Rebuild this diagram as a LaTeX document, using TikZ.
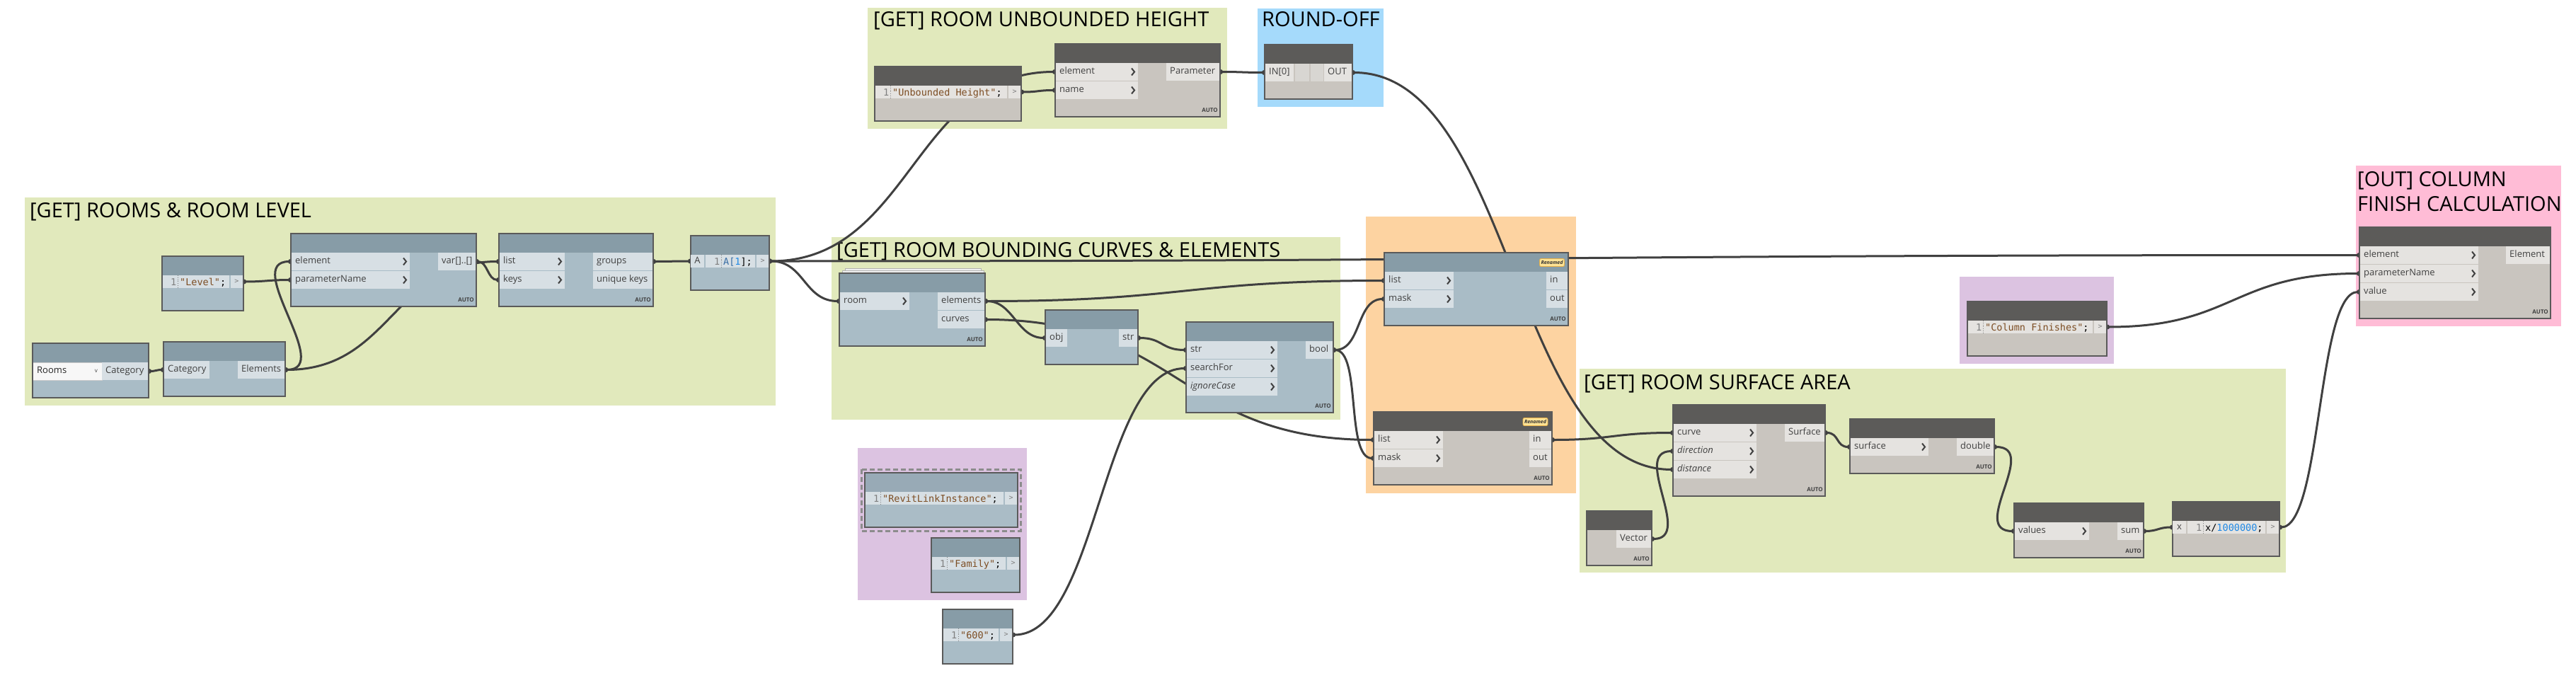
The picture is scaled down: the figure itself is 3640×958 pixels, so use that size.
\documentclass[tikz,border=0pt]{standalone}
\usepackage{fontspec}
\setmainfont{Open Sans}
\setmonofont{DejaVu Sans Mono}
\usetikzlibrary{arrows.meta}
\pgfdeclarelayer{grp}
\pgfdeclarelayer{wire}
\pgfsetlayers{grp,wire,main}
\definecolor{Bhead}{HTML}{879CA7}
\definecolor{Bbody}{HTML}{A9BCC6}
\definecolor{Blab}{HTML}{D7DFE4}
\definecolor{Lhead}{HTML}{98AAB6}
\definecolor{Lbody}{HTML}{AABCC6}
\definecolor{Llab}{HTML}{D7DFE4}
\definecolor{Dhead}{HTML}{5C5B59}
\definecolor{Dbody}{HTML}{C9C5BF}
\definecolor{Dlab}{HTML}{E5E3E0}
\definecolor{nodeline}{HTML}{5A5A5A}
\definecolor{wirec}{HTML}{404040}
\definecolor{ggreen}{HTML}{E1E9BC}
\definecolor{gblue}{HTML}{A5DAFB}
\definecolor{gorange}{HTML}{FDD3A1}
\definecolor{gpurple}{HTML}{DCC3E1}
\definecolor{gpink}{HTML}{FFBCD6}
\definecolor{strc}{HTML}{7D4E24}
\definecolor{numc}{HTML}{1E88E5}
\definecolor{varc}{HTML}{3A6EA5}
\definecolor{codegrey}{HTML}{7F7F7F}
\definecolor{labtext}{HTML}{404040}
\definecolor{badgef}{HTML}{FFE395}
\definecolor{badged}{HTML}{E5B04A}
\definecolor{sqc}{HTML}{D8D6D2}
\tikzset{
 nodebox/.style={anchor=north west, inner sep=0pt, outer sep=0pt},
 nodeframe/.style={draw=nodeline, line width=1.5pt},
 portbox/.style={inner sep=0pt, outer sep=0pt, minimum height=25pt},
 portl/.style={inner xsep=6pt, inner ysep=0pt, text=labtext, font=\fontsize{13}{13}\selectfont, text height=9pt, text depth=2.5pt, anchor=west},
 chev/.style={draw=labtext, line width=2pt},
 codet/.style={font=\ttfamily\fontsize{13.5}{14}\selectfont, inner sep=0pt, anchor=base west},
 autot/.style={font=\bfseries\fontsize{8}{8}\selectfont, text=labtext, inner sep=0pt, anchor=south east},
 grptitle/.style={font=\fontsize{29}{35}\selectfont, inner sep=0pt, anchor=base west},
 grpbox/.style={anchor=north west, inner sep=0pt, outer sep=0pt},
 wirestyle/.style={draw=wirec, line width=3pt, shorten <=-3pt, shorten >=-3pt, {Circle[length=7pt]}-{Circle[length=7pt]}},
 badge/.style={fill=badgef, draw=badged, line width=0.8pt, rounded corners=2pt, inner xsep=2pt, inner ysep=1pt, minimum width=34pt, minimum height=11pt, font=\bfseries\itshape\fontsize{7}{7}\selectfont, text=black!80}
}
\newcommand{\DNbox}[6]{%
 \node[nodebox, minimum width=#4pt, minimum height=#5pt, fill=#6body] (#1) at (#2,#3) {};%
 \fill[#6head] (#1.north west) rectangle ++(#4,27);}
\newcommand{\DNend}[1]{\draw[nodeframe] (#1.north west) rectangle (#1.south east);}
\newcommand{\DNauto}[1]{\node[autot] at ([xshift=-3pt,yshift=6pt]#1.south east) {AUTO};}
\newcommand{\InP}[6]{%
 \node[portbox, anchor=north west, minimum width=#4pt, fill=#6lab] (#1) at (#2,#3) {};%
 \node[portl] at (#1.west) {#5};%
 \draw[chev] ([xshift=-9pt,yshift=5pt]#1.east) -- ([xshift=-5pt]#1.east) -- ([xshift=-9pt,yshift=-5pt]#1.east);}
\newcommand{\InQ}[6]{%
 \node[portbox, anchor=north west, minimum width=#4pt, fill=#6lab] (#1) at (#2,#3) {};%
 \node[portl] at (#1.west) {#5};}
\newcommand{\OutP}[6]{%
 \node[portbox, anchor=north east, minimum width=#4pt, fill=#6lab] (#1) at (#2,#3) {};%
 \node[portl, inner xsep=5pt] at (#1.west) {#5};}
\newcommand{\CodeBlk}[7]{%
 \DNbox{#1}{#2}{#3}{#4}{77}{#5}%
 \fill[#5lab] ({#2+#7},{#3+27}) rectangle ({#2+#4-19},{#3+45});%
 \node[portbox, anchor=north east, minimum width=19pt, minimum height=18pt, fill=#5lab] (#1o) at ({#2+#4},{#3+27}) {};%
 \draw[#5body, line width=1.5pt] (#1o.north west) -- (#1o.south west);%
 \node[codet, anchor=center, text=codegrey, font=\ttfamily\fontsize{10}{10}\selectfont] at (#1o.center) {>};%
 \node[codet, text=codegrey] at ({#2+#7+12},{#3+41}) {1};%
 \draw[codegrey, dotted, line width=0.8pt] ({#2+#7+22},{#3+27}) -- ({#2+#7+22},{#3+45});%
 \node[codet] at ({#2+#7+25},{#3+41}) {#6};%
 \DNend{#1}}
\begin{document}
\begin{tikzpicture}[x=1pt,y=-1pt]
\useasboundingbox (0,0) rectangle (3640,958);

% ---------- groups ----------
\begin{pgfonlayer}{grp}
\fill[white] (0,0) rectangle (3640,958);
\node[grpbox, fill=ggreen, minimum width=1061pt, minimum height=294pt] (g1) at (35,279) {};
\node[grptitle] (g1t) at (42,307) {[GET] ROOMS \& ROOM LEVEL};
\node[grpbox, fill=ggreen, minimum width=508pt, minimum height=171pt] (g2) at (1226,11) {};
\node[grptitle] (g2t) at (1234,38) {[GET] ROOM UNBOUNDED HEIGHT};
\node[grpbox, fill=gblue, minimum width=178pt, minimum height=139pt] (g3) at (1777,12) {};
\node[grptitle] (g3t) at (1783,38) {ROUND-OFF};
\node[grpbox, fill=ggreen, minimum width=719pt, minimum height=258pt] (g4) at (1175,335) {};
\node[grptitle] (g4t) at (1182,363) {[GET] ROOM BOUNDING CURVES \& ELEMENTS};
\node[grpbox, fill=gorange, minimum width=297pt, minimum height=391pt] (g5) at (1930,306) {};
\node[grpbox, fill=ggreen, minimum width=998pt, minimum height=288pt] (g6) at (2232,521) {};
\node[grptitle] (g6t) at (2238,550) {[GET] ROOM SURFACE AREA};
\node[grpbox, fill=gpurple, minimum width=218pt, minimum height=123pt] (g7) at (2769,391) {};
\node[grpbox, fill=gpink, minimum width=290pt, minimum height=227pt] (g8) at (3329,234) {};
\node[grptitle] (g8t) at (3331,263) {[OUT] COLUMN};
\node[grptitle] (g8u) at (3331,298) {FINISH CALCULATION};
\node[grpbox, fill=gpurple, minimum width=239pt, minimum height=215pt] (g9) at (1212,633) {};
\end{pgfonlayer}

% ---------- nodes: rooms & level ----------
\CodeBlk{lvl}{229}{362}{115}{B}{\textcolor{strc}{"Level"};}{0}

\DNbox{gpv}{411}{330}{262}{103}{B}
\InP{gpvE}{411}{357}{168}{element}{B}
\InP{gpvP}{411}{383}{168}{parameterName}{B}
\OutP{gpvO}{673}{357}{54}{var[]..[]}{B}
\DNauto{gpv}\DNend{gpv}

\DNbox{gbk}{705}{330}{218}{103}{B}
\InP{gbkL}{705}{357}{93}{list}{B}
\InP{gbkK}{705}{383}{93}{keys}{B}
\OutP{gbkG}{923}{357}{85}{groups}{B}
\OutP{gbkU}{923}{383}{85}{unique keys}{B}
\DNauto{gbk}\DNend{gbk}

\CodeBlk{aone}{976}{333}{111}{B}{\textcolor{varc}{A[}\textcolor{numc}{1}];}{21}
\node[portbox, anchor=north west, minimum width=19pt, minimum height=18pt, fill=Blab] (aoneI) at (976,360) {};
\node[portl, anchor=center, inner xsep=0pt] at (aoneI.center) {A};

\DNbox{rooms}{46}{485}{164}{77}{B}
\node[portbox, anchor=north west, minimum width=98pt, fill=black!3, draw=black!20, line width=0.8pt] (roomsDD) at (46,512) {};
\node[portl, text=black!85] at (roomsDD.west) {Rooms};
\node[font=\fontsize{8}{8}\selectfont, text=labtext, inner sep=0pt] at ([xshift=-8pt]roomsDD.east) {v};
\OutP{roomsC}{210}{512}{66}{Category}{B}
\DNend{rooms}

\DNbox{allel}{231}{483}{172}{77}{B}
\InQ{allelC}{231}{510}{65}{Category}{B}
\OutP{allelE}{403}{510}{67}{Elements}{B}
\DNend{allel}

% ---------- unbounded height / round ----------
\CodeBlk{ubh}{1236}{94}{207}{D}{\textcolor{strc}{"Unbounded Height"};}{0}

\DNbox{gp}{1491}{62}{233}{103}{D}
\InP{gpE}{1491}{89}{117}{element}{D}
\InP{gpN}{1491}{115}{117}{name}{D}
\OutP{gpO}{1724}{89}{76}{Parameter}{D}
\DNauto{gp}\DNend{gp}

\DNbox{rnd}{1787}{63}{124}{77}{D}
\InQ{rndI}{1787}{90}{41}{IN[0]}{D}
\fill[sqc] (1830,90) rectangle (1850,115);
\fill[sqc] (1852,90) rectangle (1870,115);
\OutP{rndO}{1911}{90}{40}{OUT}{D}
\DNend{rnd}

% ---------- bounding curves ----------
\draw[fill=black!6, draw=black!30, line width=0.8pt] (1194,379) rectangle (1386,383);
\draw[fill=black!6, draw=black!30, line width=0.8pt] (1190,382.5) rectangle (1390,386);
\DNbox{rbc}{1186}{386}{206}{103}{B}
\InP{rbcR}{1186}{413}{99}{room}{B}
\OutP{rbcE}{1392}{413}{67}{elements}{B}
\OutP{rbcC}{1392}{439}{67}{curves}{B}
\DNauto{rbc}\DNend{rbc}

\DNbox{fob}{1477}{438}{131}{77}{B}
\InQ{fobI}{1477}{465}{31}{obj}{B}
\OutP{fobO}{1608}{465}{27}{str}{B}
\DNend{fob}

\DNbox{sc}{1676}{455}{208}{128}{B}
\InP{scS}{1676}{482}{129}{str}{B}
\InP{scF}{1676}{508}{129}{searchFor}{B}
\InP{scI}{1676}{534}{129}{\itshape ignoreCase}{B}
\OutP{scB}{1884}{482}{39}{bool}{B}
\DNauto{sc}\DNend{sc}

% ---------- filters ----------
\DNbox{fbt}{1956}{357}{260}{103}{B}
\InP{fbtL}{1956}{384}{98}{list}{B}
\InP{fbtM}{1956}{410}{98}{mask}{B}
\OutP{fbtI}{2216}{384}{31}{in}{B}
\OutP{fbtO}{2216}{410}{31}{out}{B}
\node[badge] (fbtB) at (2193,371) {Renamed};
\DNauto{fbt}\DNend{fbt}

\DNbox{fbb}{1941}{582}{252}{103}{D}
\InP{fbbL}{1941}{609}{98}{list}{D}
\InP{fbbM}{1941}{635}{98}{mask}{D}
\OutP{fbbI}{2193}{609}{32}{in}{D}
\OutP{fbbO}{2193}{635}{32}{out}{D}
\node[badge] (fbbB) at (2169.5,596) {Renamed};
\DNauto{fbb}\DNend{fbb}

% ---------- surface area ----------
\DNbox{sfe}{2364}{572}{215}{129}{D}
\InP{sfeC}{2364}{599}{118}{curve}{D}
\InP{sfeD}{2364}{625}{118}{\itshape direction}{D}
\InP{sfeT}{2364}{651}{118}{\itshape distance}{D}
\OutP{sfeS}{2579}{599}{57}{Surface}{D}
\DNauto{sfe}\DNend{sfe}

\DNbox{sar}{2614}{592}{204}{77}{D}
\InP{sarS}{2614}{619}{111}{surface}{D}
\OutP{sarD}{2818}{619}{53}{double}{D}
\DNauto{sar}\DNend{sar}

\DNbox{vec}{2242}{722}{92}{77}{D}
\OutP{vecO}{2334}{749}{50}{Vector}{D}
\DNauto{vec}\DNend{vec}

\DNbox{sum}{2846}{711}{183}{77}{D}
\InP{sumV}{2846}{738}{106}{values}{D}
\OutP{sumO}{3029}{738}{37}{sum}{D}
\DNauto{sum}\DNend{sum}

\CodeBlk{xdiv}{3070}{709}{151}{D}{x/\textcolor{numc}{1000000};}{21}
\node[portbox, anchor=north west, minimum width=19pt, minimum height=18pt, fill=Dlab] (xdivI) at (3070,736) {};
\node[portl, anchor=center, inner xsep=0pt] at (xdivI.center) {x};

% ---------- output ----------
\CodeBlk{cfin}{2780}{426}{197}{D}{\textcolor{strc}{"Column Finishes"};}{0}

\DNbox{spn}{3334}{321}{270}{129}{D}
\InP{spnE}{3334}{348}{168}{element}{D}
\InP{spnP}{3334}{374}{168}{parameterName}{D}
\InP{spnV}{3334}{400}{168}{value}{D}
\OutP{spnO}{3604}{348}{63}{Element}{D}
\DNauto{spn}\DNend{spn}

% ---------- purple strings ----------
\CodeBlk{rli}{1222}{668}{216}{L}{\textcolor{strc}{"RevitLinkInstance"};}{0}
\draw[draw=black!45, line width=3pt, dash pattern=on 7pt off 4pt] (1217,663) rectangle (1442,750);
\CodeBlk{fam}{1316}{760}{125}{B}{\textcolor{strc}{"Family"};}{0}
\CodeBlk{six}{1332}{861}{99}{B}{\textcolor{strc}{"600"};}{0}

% ---------- wires ----------
\begin{pgfonlayer}{wire}
\draw[wirestyle] (roomsC.east) .. controls +(10,0) and +(-10,0) .. (allelC.west);
\draw[wirestyle] (allelE.east) .. controls +(70,0) and +(-70,0) .. (gpvE.west);
\draw[wirestyle] (allelE.east) .. controls +(150,0) and +(-150,0) .. (gbkL.west);
\draw[wirestyle] (lvlo.east) .. controls +(30,0) and +(-30,0) .. (gpvP.west);
\draw[wirestyle] (gpvO.east) .. controls +(16,0) and +(-16,0) .. (gbkK.west);
\draw[wirestyle] (gbkG.east) .. controls +(25,0) and +(-25,0) .. (aoneI.west);
\draw[wirestyle] (aoneo.east) .. controls +(50,0) and +(-50,0) .. (rbcR.west);
\draw[wirestyle] (aoneo.east) .. controls +(200,0) and +(-200,0) .. (gpE.west);
\draw[wirestyle] (aoneo.east) .. controls +(1100,0) and +(-1100,0) .. (spnE.west);
\draw[wirestyle] (ubho.east) .. controls +(25,0) and +(-25,0) .. (gpN.west);
\draw[wirestyle] (gpO.east) .. controls +(30,0) and +(-30,0) .. (rndI.west);
\draw[wirestyle] (rndO.east) .. controls +(226,0) and +(-226,0) .. (sfeT.west);
\draw[wirestyle] (rbcE.east) .. controls +(40,0) and +(-40,0) .. (fobI.west);
\draw[wirestyle] (rbcE.east) .. controls +(280,0) and +(-280,0) .. (fbtL.west);
\draw[wirestyle] (rbcC.east) .. controls +(275,0) and +(-275,0) .. (fbbL.west);
\draw[wirestyle] (fobO.east) .. controls +(35,0) and +(-35,0) .. (scS.west);
\draw[wirestyle] (sixo.east) .. controls +(120,0) and +(-120,0) .. (scF.west);
\draw[wirestyle] (scB.east) .. controls +(40,0) and +(-40,0) .. (fbtM.west);
\draw[wirestyle] (scB.east) .. controls +(40,0) and +(-40,0) .. (fbbM.west);
\draw[wirestyle] (fbbI.east) .. controls +(85,0) and +(-85,0) .. (sfeC.west);
\draw[wirestyle] (vecO.east) .. controls +(60,0) and +(-60,0) .. (sfeD.west);
\draw[wirestyle] (sfeS.east) .. controls +(20,0) and +(-20,0) .. (sarS.west);
\draw[wirestyle] (sarD.east) .. controls +(65,0) and +(-65,0) .. (sumV.west);
\draw[wirestyle] (sumO.east) .. controls +(20,0) and +(-20,0) .. (xdivI.west);
\draw[wirestyle] (xdivo.east) .. controls +(60,0) and +(-60,0) .. (spnV.west);
\draw[wirestyle] (cfino.east) .. controls +(180,0) and +(-180,0) .. (spnP.west);
\end{pgfonlayer}
\end{tikzpicture}
\end{document}
